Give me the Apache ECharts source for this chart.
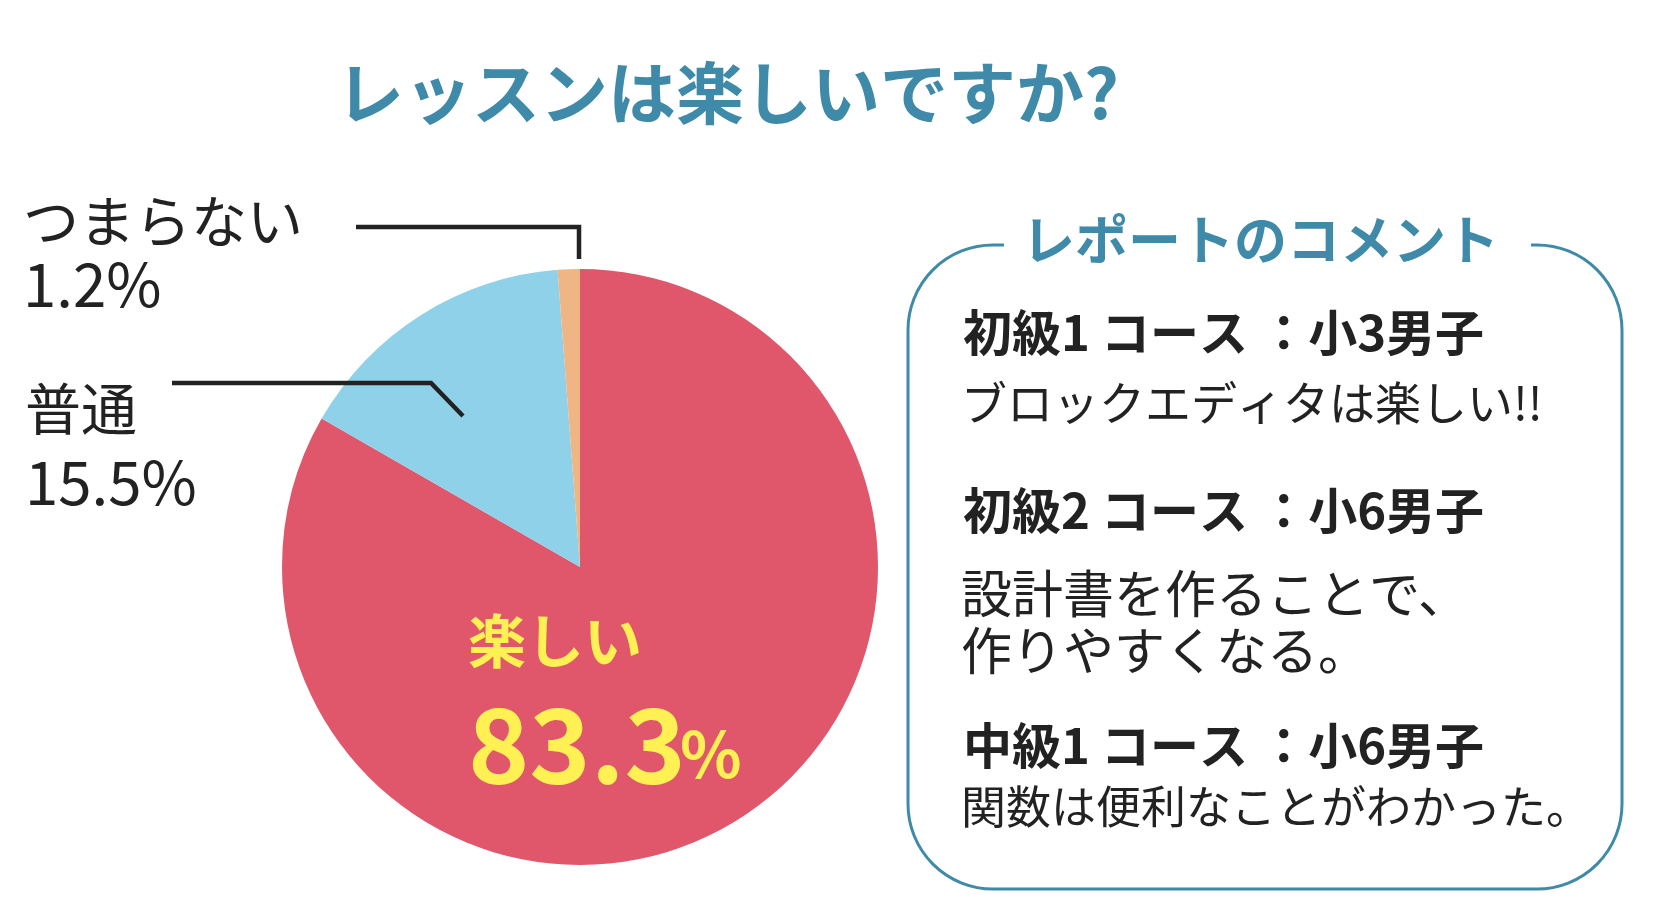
<!DOCTYPE html>
<html>
<head>
<meta charset="utf-8">
<script src="https://cdn.jsdelivr.net/npm/echarts@6/dist/echarts.min.js"></script>
<style>
    html, body { margin: 0; padding: 0; background: #fff; }
    #chart { width: 1658px; height: 924px; }
</style>
</head>
<body>
<div id="chart"></div>
<script>
// dados da pesquisa
var categories = ['楽しい', '普通', 'つまらない'];
var values = [83.3, 15.5, 1.2];
var colors = ['#e0566b', '#8fd1e9', '#f0b584'];

var chartTitle = 'レッスンは楽しいですか?';
var boxTitle = 'レポートのコメント';
var commentHeads = ['初級1 コース ：小3男子', '初級2 コース ：小6男子', '中級1 コース ：小6男子'];
var commentBodies = [['ブロックエディタは楽しい!!'], ['設計書を作ることで、', '作りやすくなる。'], ['関数は便利なことがわかった。']];

var FONT = '"Noto Sans CJK JP", "Noto Sans CJK SC", sans-serif';
var TEAL = '#3f8aa9';
var INK = '#222';

function txt(x, y, text, size, color, weight) {
    return {
        type: 'text', x: x, y: y, z: 100, silent: true,
        style: {
            text: text, fill: color, font: (weight || 'normal') + ' ' + size + 'px ' + FONT,
            textVerticalAlign: 'middle'
        }
    };
}

var graphics = [];

// titulo
graphics.push(txt(336, 93, chartTitle, 68, TEAL, 'bold'));

// rotulos externos (つまらない / 普通)
graphics.push(txt(23, 221, categories[2], 56, INK));
graphics.push(txt(23, 284, values[2] + '%', 60, INK));
graphics.push(txt(25, 409, categories[1], 56, INK));
graphics.push(txt(25, 482, values[1] + '%', 60, INK));

// linhas de chamada
graphics.push({
    type: 'polyline', z: 100, silent: true,
    shape: { points: [[356, 227], [579, 227], [579, 259]] },
    style: { stroke: INK, lineWidth: 4.5, fill: null }
});
graphics.push({
    type: 'polyline', z: 100, silent: true,
    shape: { points: [[172, 383], [431, 383], [463, 416]] },
    style: { stroke: INK, lineWidth: 4.5, fill: null }
});

// rotulo interno (楽しい)
graphics.push(txt(468, 641, categories[0], 58, '#fff153', 'bold'));
graphics.push(txt(468, 744, String(values[0]), 104, '#fff153', 'bold'));
graphics.push(txt(680, 754, '%', 64, '#fff153', 'bold'));

// caixa de comentarios
graphics.push({
    type: 'rect', z: 90, silent: true,
    shape: { x: 908, y: 245, width: 714, height: 644, r: 85 },
    style: { stroke: TEAL, lineWidth: 3, fill: '#fff' }
});
graphics.push({
    type: 'rect', z: 95, silent: true,
    shape: { x: 1004, y: 235, width: 527, height: 20 },
    style: { fill: '#fff' }
});
graphics.push(txt(1022, 240, boxTitle, 53, TEAL, 'bold'));

var headY = [332, 510, 745];
var bodyY = [[403], [594, 651], [807]];
var bodySize = [46, 51, 45];
commentHeads.forEach(function (h, i) {
    graphics.push(txt(963, headY[i], h, 49, INK, 'bold'));
    commentBodies[i].forEach(function (line, j) {
        graphics.push(txt(961, bodyY[i][j], line, bodySize[i], INK));
    });
});

var chart = echarts.init(document.getElementById('chart'));
chart.setOption({
    animation: false,
    backgroundColor: '#fff',
    series: [{
        type: 'pie',
        center: [580, 567],
        radius: 298,
        startAngle: 90,
        clockwise: true,
        silent: true,
        z: 2,
        label: { show: false },
        labelLine: { show: false },
        itemStyle: { borderWidth: 0 },
        data: categories.map(function (c, i) {
            return { name: c, value: values[i], itemStyle: { color: colors[i] } };
        })
    }],
    graphic: graphics
});
</script>
</body>
</html>
